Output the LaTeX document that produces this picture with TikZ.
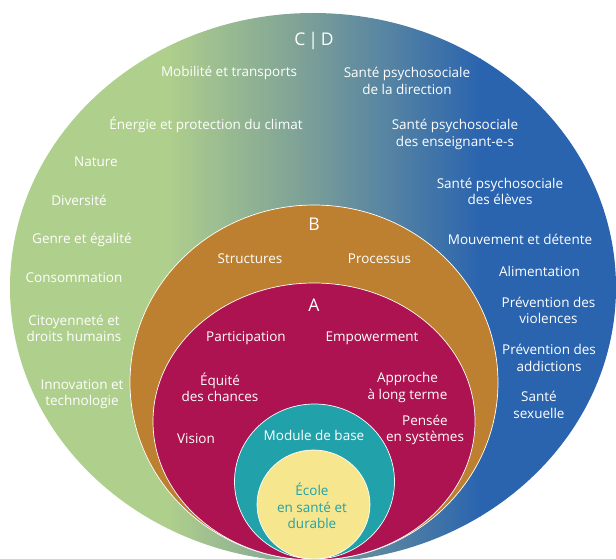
\documentclass[tikz,border=0pt]{standalone}
\usepackage{fontspec}
\setmainfont{Open Sans}
\definecolor{cgreen}{RGB}{175,207,140}
\definecolor{cmid}{RGB}{122,158,152}
\definecolor{cblue}{RGB}{42,100,175}
\definecolor{corange}{RGB}{188,128,48}
\definecolor{ccrimson}{RGB}{173,19,80}
\definecolor{cteal}{RGB}{33,161,169}
\definecolor{cyellow}{RGB}{246,230,142}
\begin{document}
\begin{tikzpicture}[x=1pt,y=-1pt,
  lbl/.style={text=white, align=center, font=\fontsize{13.5}{16.5}\selectfont, inner sep=0pt},
  big/.style={text=white, font=\fontsize{17.5}{20}\selectfont, inner sep=0pt},
  ring/.style={draw=white, line width=0.7pt}]
\useasboundingbox (0,0) rectangle (616,559);
% outer C|D ellipse with gradient
\begin{scope}
  \clip (313,287.5) ellipse [x radius=303pt, y radius=274.5pt];
  \fill[cgreen] (-5,-5) rectangle (168,600);
  \shade[left color=cgreen, right color=cmid] (167,-5) rectangle (311,600);
  \shade[left color=cmid, right color=cblue] (310,-5) rectangle (481,600);
  \fill[cblue] (480,-5) rectangle (625,600);
\end{scope}
% inner rings
\fill[corange, ring] (314,382.5) ellipse [x radius=184pt, y radius=177.5pt];
\fill[ccrimson, ring] (314,421.5) ellipse [x radius=161pt, y radius=138.5pt];
\fill[cteal, ring] (314.5,481.5) ellipse [x radius=80pt, y radius=77.5pt];
\fill[cyellow, ring] (313.5,504.5) ellipse [x radius=56.5pt, y radius=54.5pt];
\begin{scope}[shift={(0,1.5)}]
% titles
\node[big] (cd) at (314,39) {C\,|\,D};
\node[big] (b) at (314,223) {B};
\node[big] (a) at (314,304) {A};
% C | D labels
\node[lbl] (mob) at (229,71) {Mobilité et transports};
\node[lbl] (sdir) at (407,79.5) {Santé psychosociale\\de la direction};
\node[lbl] (ener) at (206,123) {Énergie et protection du climat};
\node[lbl] (sens) at (455,133) {Santé psychosociale\\des enseignant-e-s};
\node[lbl] (nat) at (96,160) {Nature};
\node[lbl] (sel) at (500,190) {Santé psychosociale\\des élèves};
\node[lbl] (div) at (79,199) {Diversité};
\node[lbl] (gen) at (82,238) {Genre et égalité};
\node[lbl] (mouv) at (520,238) {Mouvement et détente};
\node[lbl] (cons) at (74,276) {Consommation};
\node[lbl] (alim) at (539.5,269.5) {Alimentation};
\node[lbl] (pviol) at (548.5,309) {Prévention des\\violences};
\node[lbl] (cit) at (74,327) {Citoyenneté et\\droits humains};
\node[lbl] (padd) at (549,356.5) {Prévention des\\addictions};
\node[lbl] (inno) at (82,392.5) {Innovation et\\technologie};
\node[lbl] (sex) at (539,403.5) {Santé\\sexuelle};
% B labels
\node[lbl] (struc) at (250,257) {Structures};
\node[lbl] (proc) at (379.5,257) {Processus};
% A labels
\node[lbl] (part) at (246,337) {Participation};
\node[lbl] (emp) at (372,337) {Empowerment};
\node[lbl] (equ) at (220,386) {Équité\\des chances};
\node[lbl] (appr) at (407.5,386) {Approche\\à long terme};
\node[lbl] (pens) at (425,428.5) {Pensée\\en systèmes};
\node[lbl] (vis) at (196,437) {Vision};
% inner
\node[lbl] (mod) at (314,434) {Module de base};
\node[lbl, text=cteal] (ecole) at (312,504.5) {École\\en santé et\\durable};
\end{scope}
\end{tikzpicture}
\end{document}
